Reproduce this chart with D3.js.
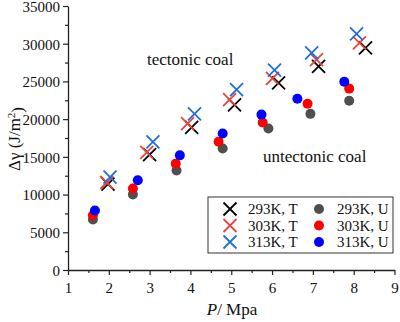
<!DOCTYPE html>
<html>
<head>
<meta charset="utf-8">
<script src="https://cdn.jsdelivr.net/npm/d3@7"></script>
<style>
  body { margin: 0; background: #fff; font-family: 'Liberation Serif'; }
  svg text { font-family: 'Liberation Serif' !important; }
</style>
</head>
<body>
<div id="chart"></div>
<script>
const width = 400;
const height = 322;
const margin = { top: 6, right: 5, bottom: 51, left: 68 };

// tectonic coal (crosses)
const pT293 = [1.98, 3.0, 4.03, 5.08, 6.16, 7.14, 8.29];
const vT293 = [11400, 15300, 18900, 21900, 24800, 27000, 29450];
const pT303 = [1.95, 2.93, 3.93, 4.96, 6.01, 7.09, 8.14];
const vT303 = [11600, 15600, 19400, 22600, 25400, 27900, 30100];
const pT313 = [2.03, 3.08, 4.1, 5.13, 6.06, 6.97, 8.07];
const vT313 = [12300, 17000, 20700, 23900, 26500, 28800, 31300];

// untectonic coal (dots)
const pU293 = [1.61, 2.59, 3.66, 4.79, 5.91, 6.94, 7.89];
const vU293 = [6700, 10000, 13200, 16100, 18750, 20700, 22450];
const pU303 = [1.61, 2.59, 3.64, 4.69, 5.77, 6.87, 7.89];
const vU303 = [7250, 10800, 14100, 17000, 19550, 22050, 24050];
const pU313 = [1.66, 2.71, 3.74, 4.79, 5.74, 6.62, 7.77];
const vU313 = [7900, 11900, 15200, 18100, 20600, 22700, 24950];

const xTicks = [1, 2, 3, 4, 5, 6, 7, 8, 9];
const yTicks = [0, 5000, 10000, 15000, 20000, 25000, 30000, 35000];

const crossSeries = [
  { label: '293K, T', p: pT293, v: vT293, color: '#000000' },
  { label: '303K, T', p: pT303, v: vT303, color: '#e8463c' },
  { label: '313K, T', p: pT313, v: vT313, color: '#1f6fdc' }
];
const dotSeries = [
  { label: '293K, U', p: pU293, v: vU293, color: '#4f4f4f' },
  { label: '303K, U', p: pU303, v: vU303, color: '#ff0000' },
  { label: '313K, U', p: pU313, v: vU313, color: '#0000ff' }
];

const svg = d3.select('#chart').append('svg')
  .attr('width', width)
  .attr('height', height)
  .attr('font-family', 'Liberation Serif');

const innerW = width - margin.left - margin.right;
const innerH = height - margin.top - margin.bottom;
const g = svg.append('g').attr('transform', `translate(${margin.left},${margin.top})`);

const x = d3.scaleLinear().domain([1, 9]).range([0, innerW - 0.5]);
const y = d3.scaleLinear().domain([0, 35000]).range([innerH - 1, 0]);

// minor ticks
g.append('g')
  .attr('transform', `translate(0,${innerH - 1})`)
  .call(d3.axisBottom(x).tickValues(d3.range(1.5, 9, 1)).tickSize(3).tickFormat(''))
  .call(a => a.select('.domain').remove());
g.append('g')
  .call(d3.axisLeft(y).tickValues(d3.range(2500, 35000, 5000)).tickSize(3).tickFormat(''))
  .call(a => a.select('.domain').remove());

const xAxis = g.append('g')
  .attr('transform', `translate(0,${innerH - 1})`)
  .call(d3.axisBottom(x).tickValues(xTicks).tickSize(5).tickSizeOuter(0).tickFormat(d3.format('d')));
const yAxis = g.append('g')
  .call(d3.axisLeft(y).tickValues(yTicks).tickSize(5).tickSizeOuter(0).tickFormat(d3.format('d')));

[xAxis, yAxis].forEach(a => {
  a.attr('font-family', 'Liberation Serif').attr('font-size', 15);
  a.selectAll('text').attr('fill', '#111');
  a.select('.domain').attr('stroke', '#222').attr('stroke-width', 1.3);
});
xAxis.selectAll('text').attr('dy', '1.0em');
yAxis.selectAll('text').attr('dy', '0.36em');

g.selectAll('.tick line').attr('stroke', '#222').attr('stroke-width', 1.2);

// axis labels
const xl = svg.append('text')
  .attr('x', 232)
  .attr('y', 315)
  .attr('text-anchor', 'middle')
  .attr('font-size', 17)
  .attr('fill', '#111');
xl.append('tspan').attr('font-style', 'italic').text('P');
xl.append('tspan').text('/ Mpa');

const yl = svg.append('text')
  .attr('transform', 'translate(20,139) rotate(-90)')
  .attr('text-anchor', 'middle')
  .attr('font-size', 17)
  .attr('fill', '#111');
yl.append('tspan').text('Δγ (J/m');
yl.append('tspan').attr('dy', '-0.45em').attr('font-size', 11).text('2');
yl.append('tspan').attr('dy', '0.45em').text(')');

// annotations
svg.append('text').attr('x', 147).attr('y', 65).attr('font-size', 17).attr('fill', '#111').text('tectonic coal');
svg.append('text').attr('x', 263).attr('y', 162).attr('font-size', 17).attr('fill', '#111').text('untectonic coal');

const cs = 6.5;
const crossPath = (cx, cy) => `M${cx - cs},${cy - cs}L${cx + cs},${cy + cs}M${cx - cs},${cy + cs}L${cx + cs},${cy - cs}`;

// dots
dotSeries.forEach(s => {
  g.append('g').selectAll('circle')
    .data(s.p.map((p, i) => ({ p, v: s.v[i] })))
    .join('circle')
    .attr('cx', d => x(d.p))
    .attr('cy', d => y(d.v))
    .attr('r', 5)
    .attr('fill', s.color);
});

// crosses
crossSeries.forEach(s => {
  g.append('g').selectAll('path')
    .data(s.p.map((p, i) => ({ p, v: s.v[i] })))
    .join('path')
    .attr('d', d => crossPath(x(d.p), y(d.v)))
    .attr('fill', 'none')
    .attr('stroke', s.color)
    .attr('stroke-width', 1.8);
});

// legend
const lg = svg.append('g').attr('transform', 'translate(208,197)');
lg.append('rect')
  .attr('width', 185)
  .attr('height', 56)
  .attr('fill', '#fff')
  .attr('stroke', '#333')
  .attr('stroke-width', 1);
crossSeries.forEach((s, i) => {
  const cy = 12 + i * 16.5;
  lg.append('path').attr('d', crossPath(22, cy)).attr('stroke', s.color).attr('stroke-width', 1.8).attr('fill', 'none');
  lg.append('text').attr('x', 40).attr('y', cy + 5).attr('font-size', 15).attr('fill', '#111').text(s.label);
});
dotSeries.forEach((s, i) => {
  const cy = 12 + i * 16.5;
  lg.append('circle').attr('cx', 111).attr('cy', cy).attr('r', 5).attr('fill', s.color);
  lg.append('text').attr('x', 129).attr('y', cy + 5).attr('font-size', 15).attr('fill', '#111').text(s.label);
});
</script>
</body>
</html>
